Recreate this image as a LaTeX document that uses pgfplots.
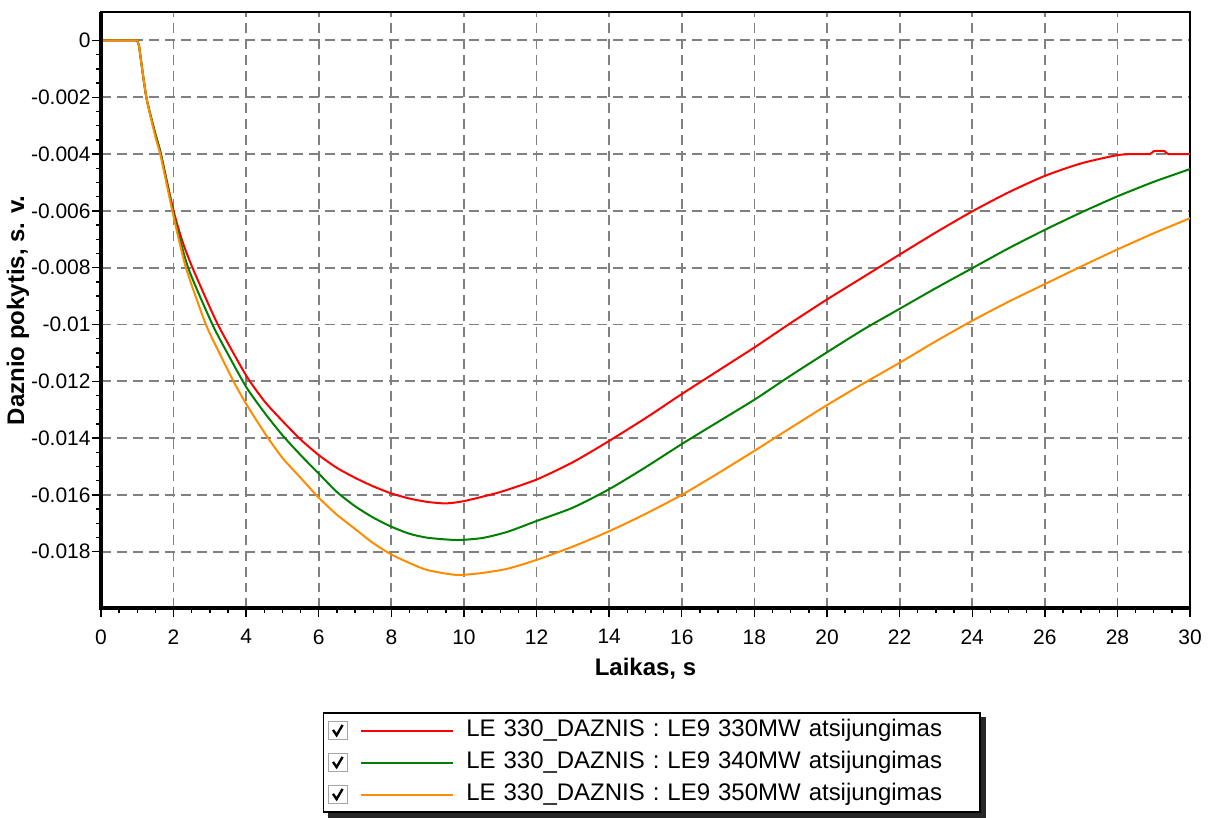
\documentclass[border=0pt]{standalone}
\usepackage{fontspec}
\setmainfont{Liberation Sans}
\usepackage{pgfplots}
\pgfplotsset{compat=1.18}
\definecolor{cred}{RGB}{255,0,0}
\definecolor{cgreen}{RGB}{0,128,0}
\definecolor{corange}{RGB}{255,140,0}
\definecolor{gridgray}{RGB}{128,128,128}
\pgfplotsset{
  chk/.style={legend image code/.code={
    \draw[draw=gray!70,fill=white,line width=0.8pt,solid] (0pt,-4.5pt) rectangle (9.5pt,4.5pt);
    \draw[draw=black,line width=1.2pt,solid] (2.3pt,0.3pt) -- (4.1pt,-2.3pt) -- (7.1pt,2.8pt);
    \draw[#1] (16.5pt,0pt) -- (62.5pt,0pt);
  }}
}
\begin{document}
\begin{tikzpicture}
\begin{axis}[
  scale only axis,
  width=545pt, height=298.5pt,
  xmin=0, xmax=30, ymin=-0.02, ymax=0.001,
  xtick={0,2,...,30},
  ytick={-0.018,-0.016,-0.014,-0.012,-0.01,-0.008,-0.006,-0.004,-0.002,0},
  yticklabels={-0.018,-0.016,-0.014,-0.012,-0.01,-0.008,-0.006,-0.004,-0.002,0},
  scaled y ticks=false,
  minor x tick num=3, minor y tick num=3,
  tick align=outside,
  major tick length=4.5pt, minor tick length=2.5pt,
  tick style={black, line width=0.7pt},
  xtick pos=bottom, ytick pos=left,
  grid=major,
  major grid style={gridgray, dash pattern=on 5pt off 3pt, line width=0.9pt},
  axis line style={black, line width=0.8pt},
  tick label style={font=\fontsize{10.5}{12}\selectfont},
  yticklabel style={inner xsep=0.5pt},
  xticklabel style={yshift=-2.5pt},
  /pgf/number format/assume math mode=true,
  xlabel={\textbf{Laikas, s}},
  ylabel={\textbf{Daznio pokytis, s. v.}},
  label style={font=\fontsize{12}{14}\selectfont},
  xlabel style={yshift=0pt},
  ylabel style={yshift=-3pt},
  legend cell align=left,
  legend style={
    name=leg,
    at={(axis description cs:0.2037,-0.1742)}, anchor=north west,
    draw=black, line width=0.8pt, fill=white,
    inner xsep=2pt, inner ysep=0.7pt,
    column sep=6pt, row sep=0pt,
    font=\fontsize{12}{14}\selectfont,
    nodes={inner xsep=0pt, inner ysep=1.5pt, text width=255pt, text height=9.5pt, text depth=3.5pt},
  },
]
\addplot[cred, line width=1pt, forget plot] coordinates {(0,0) (1.0,0) (1.05,-0.0002)};
\addplot[chk, cred, line width=1pt, smooth, tension=0.4] coordinates {
(1.05,-0.0002) (1.25,-0.002) (1.5,-0.0033) (1.65,-0.004) (2.0,-0.006)
(2.25,-0.0071) (2.52,-0.008) (3.0,-0.0094) (3.3,-0.0102) (4.0,-0.0118)
(4.5,-0.0127) (5.0,-0.0134) (5.5,-0.01405) (6,-0.0146) (6.5,-0.01505) (7,-0.0154)
(7.5,-0.0157) (8,-0.01595) (8.5,-0.01613) (9,-0.01625) (9.5,-0.0163) (10,-0.01622)
(11,-0.0159) (12,-0.01546) (13,-0.01485)
(14,-0.0141) (15,-0.0133) (16,-0.01245) (17,-0.01163) (18,-0.01081) (19,-0.00995)
(20,-0.00912) (21,-0.00833) (22,-0.00754) (23,-0.00676) (24,-0.00602) (25,-0.00535)
(26,-0.00477) (27,-0.00433) (28,-0.00404) (28.5,-0.004) (28.9,-0.004) (29,-0.0039)
(29.3,-0.0039) (29.4,-0.004) (30,-0.004)
};
\addlegendentry{LE 330\_DAZNIS : LE9 330MW atsijungimas}
\addplot[cgreen, line width=1pt, forget plot] coordinates {(0,0) (1.0,0) (1.05,-0.0002)};
\addplot[chk, cgreen, line width=1pt, smooth, tension=0.4] coordinates {
(1.05,-0.0002) (1.25,-0.002) (1.5,-0.0033) (1.65,-0.004) (2.0,-0.0061)
(2.4,-0.008) (3.07,-0.010) (3.5,-0.01105) (4.0,-0.0122) (4.5,-0.0131) (5.0,-0.0139)
(5.5,-0.0146) (6,-0.01525) (6.5,-0.0159) (7,-0.0164) (7.5,-0.0168) (8,-0.01712)
(8.5,-0.01737) (9,-0.01751) (9.8,-0.01759) (10.5,-0.01752)
(11.2,-0.0173) (12,-0.01692) (13,-0.01645) (14,-0.0158) (15,-0.01503) (16,-0.01421)
(17,-0.01343) (18,-0.01265) (19,-0.0118) (20,-0.01098) (21,-0.01018) (22,-0.00945)
(23,-0.00872) (24,-0.00802) (25,-0.00732) (26,-0.00667) (27,-0.00606) (28,-0.00549)
(29,-0.00498) (30,-0.00453)
};
\addlegendentry{LE 330\_DAZNIS : LE9 340MW atsijungimas}
\addplot[corange, line width=1pt, forget plot] coordinates {(0,0) (1.0,0) (1.05,-0.0002)};
\addplot[chk, corange, line width=1pt, smooth, tension=0.4] coordinates {
(1.05,-0.0002) (1.25,-0.002) (1.5,-0.0034) (1.65,-0.0041) (2.0,-0.0062)
(2.34,-0.008) (2.89,-0.010) (3.3,-0.0111) (3.65,-0.0120) (4.0,-0.0128) (4.55,-0.0139)
(5.0,-0.0147) (5.5,-0.0154) (6,-0.0161) (6.5,-0.0167) (7,-0.0172) (7.5,-0.0177)
(8,-0.0181) (8.5,-0.0184) (9,-0.01865) (9.8,-0.01882) (10.5,-0.01875)
(11.2,-0.0186) (12,-0.01829) (13,-0.01782) (14,-0.01728) (15,-0.01667) (16,-0.016)
(17,-0.01524) (18,-0.01445) (19,-0.01364) (20,-0.01284) (21,-0.01208) (22,-0.01135)
(23,-0.01059) (24,-0.00987) (25,-0.0092) (26,-0.00858) (27,-0.00796) (28,-0.00736)
(29,-0.00679) (30,-0.00626)
};
\addlegendentry{LE 330\_DAZNIS : LE9 350MW atsijungimas}
\coordinate (bl) at (rel axis cs:0,0);
\coordinate (tr) at (rel axis cs:1,1);
\end{axis}
\draw[black, line width=2pt] (bl |- tr) -- (bl) -- (tr |- bl);
\fill[black!85] ([yshift=-2.5pt]leg.north east) rectangle ([xshift=2.5pt,yshift=-2.5pt]leg.south east);
\fill[black!85] ([xshift=2.5pt]leg.south west) rectangle ([xshift=2.5pt,yshift=-2.5pt]leg.south east);
\path ([xshift=-50pt,yshift=-104pt]bl) rectangle ([xshift=10.5pt,yshift=6pt]tr);
\end{tikzpicture}
\end{document}
